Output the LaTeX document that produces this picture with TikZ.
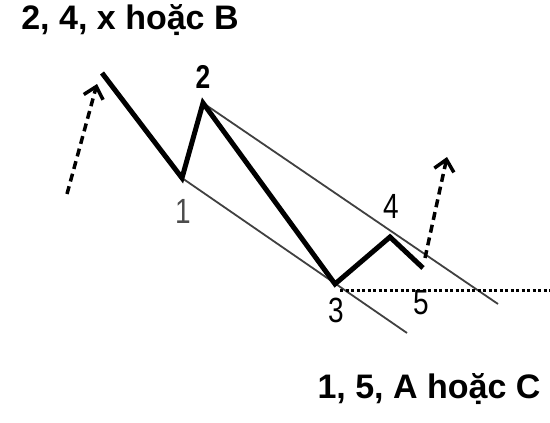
\documentclass[tikz,border=0pt]{standalone}
\usepackage{fontspec}
\setmainfont{Liberation Sans}
\usetikzlibrary{arrows.meta}
\tikzset{
  wave/.style={line width=5pt, line join=miter},
  channel/.style={line width=1.8pt, black!75},
  level/.style={line width=3pt, dash pattern=on 3pt off 2.5pt},
  breakout/.style={line width=3.5pt, dash pattern=on 8pt off 5pt, -{Straight Barb[length=11pt,width=20pt]}},
  ptlabel/.style={font=\fontsize{35}{35}\selectfont, inner sep=0pt, xscale=0.8},
  heading/.style={font=\bfseries\fontsize{34}{38}\selectfont, inner sep=0pt}
}

\begin{document}
\begin{tikzpicture}[x=1pt,y=-1pt]
        \useasboundingbox (0,0) rectangle (550,423);
        % wave points
        \coordinate (s) at (102,73);
        \coordinate (w1) at (182,178);
        \coordinate (w2) at (203,103);
        \coordinate (w3) at (335,284);
        \coordinate (w4) at (390,237);
        \coordinate (w5) at (423,268);
        % channel ends
        \coordinate (up) at (498,304);
        \coordinate (lo) at (407,333);
        \coordinate (lv0) at (340,290);
        \coordinate (lv1) at (550,290);
        % breakout arrows
        \coordinate (a0) at (67,194);
        \coordinate (a1) at (97,84);
        \coordinate (b0) at (425,258);
        \coordinate (b1) at (447,157);

        \draw[channel] (w2) -- (up);
        \draw[channel] (w1) -- (lo);
        \draw[level] (lv0) -- (lv1);
        \draw[wave] (s) -- (w1) -- (w2) -- (w3) -- (w4) -- (w5);
        \draw[breakout] (a0) -- (a1);
        \draw[breakout] (b0) -- (b1);

        \node[ptlabel, black!70] (n1) at (183,211) {1};
        \node[ptlabel, font=\bfseries\fontsize{33}{33}\selectfont] (n2) at (203,77) {2};
        \node[ptlabel] (n3) at (336,310) {3};
        \node[ptlabel] (n4) at (391,206) {4};
        \node[ptlabel] (n5) at (421,303) {5};

        \node[heading] (top) at (130,20) {2, 4, x hoặc B};
        \node[heading] (bot) at (429,389) {1, 5, A hoặc C};
\end{tikzpicture}
\end{document}
